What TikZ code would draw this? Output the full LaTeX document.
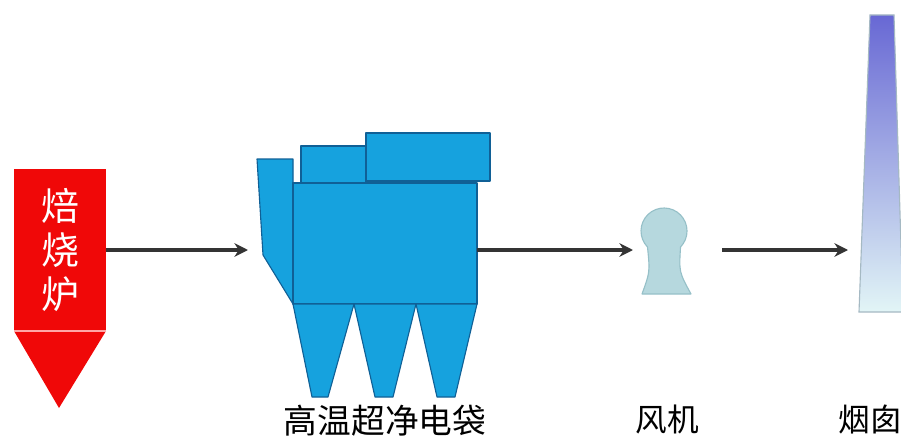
\documentclass[tikz,border=0pt]{standalone}
\usepackage{fontspec}
\newfontfamily\cjk{Noto Sans CJK SC}
\usepackage{xcolor}
\usetikzlibrary{arrows.meta,positioning}

\definecolor{furnred}{RGB}{240,8,8}
\definecolor{bagblue}{RGB}{22,162,222}
\definecolor{bagedge}{RGB}{16,96,150}
\definecolor{fanfill}{RGB}{182,216,222}
\definecolor{fanedge}{RGB}{150,192,200}
\definecolor{stacktop}{RGB}{104,104,212}
\definecolor{stackbot}{RGB}{226,245,246}
\definecolor{stackedge}{RGB}{165,185,195}
\definecolor{arrowgray}{RGB}{52,52,52}

\begin{document}
\begin{tikzpicture}[x=0.025cm,y=-0.025cm,
    flow/.style={line width=2.4pt,draw=arrowgray,-{Stealth[length=0.34cm,width=0.34cm]}},
    devname/.style={font=\cjk\fontsize{22.5}{22.5}\selectfont,inner sep=0pt},
    furnace/.style={fill=furnred,minimum width=2.3cm,minimum height=4.05cm,inner sep=0pt,
                    text=white,align=center,font=\cjk\fontsize{27}{31.5}\selectfont},
    bag/.style={fill=bagblue,draw=bagedge,line width=0.8pt,line join=round}]
\useasboundingbox (0,0) rectangle (901,440);

%roasting furnace
\node[furnace] (furnace) at (60,250) {焙\\烧\\炉};
\fill[furnred] (14,331) -- (106,331) -- (59,408) -- cycle;
\draw[red!35!white,line width=1pt] (14,331) -- (106,331);

%bag filter
\filldraw[bag] (257,159) -- (293,159) -- (293,304) -- (263,255) -- cycle;
\filldraw[bag] (293,183) rectangle (477,304);
\foreach \a/\b/\c/\d in {293/354/312/328, 354/416/375/393, 416/477/437/455}
   \filldraw[bag] (\a,304) -- (\b,304) -- (\d,397) -- (\c,397) -- cycle;
\filldraw[bag] (301,146) rectangle (366,183);
\filldraw[bag] (366,133) rectangle (490,181);
\coordinate (bagin) at (248,250);
\coordinate (bagout) at (477,250);
\node[devname,font=\cjk\fontsize{24}{24}\selectfont] (baglabel) at (385,421) {高温超净电袋};

%fan
\filldraw[fill=fanfill,draw=fanedge,line width=0.8pt,line join=round]
   (642,294) .. controls (650,272) .. (647.5,247)
   arc[start angle=135.9,end angle=404.1,radius=23]
   .. controls (679,272) .. (691,294) -- cycle;
\coordinate (fanin) at (633,250);
\coordinate (fanout) at (722,250);
\node[devname] (fanlabel) at (667,419) {风机};

%stack
\shade[top color=stacktop,bottom color=stackbot] (870,15) -- (894,15) -- (903,312) -- (859,312) -- cycle;
\draw[stackedge,line width=0.8pt] (903,312) -- (859,312) -- (870,15) -- (894,15) -- (903,312);
\coordinate (stackin) at (848,250);
\node[devname] (stacklabel) at (870,420) {烟囱};

%flue gas path
\draw[flow] (furnace.east) -- (furnace.east -| bagin);
\draw[flow] (bagout) -- (fanin);
\draw[flow] (fanout) -- (stackin);

\end{tikzpicture}
\end{document}
